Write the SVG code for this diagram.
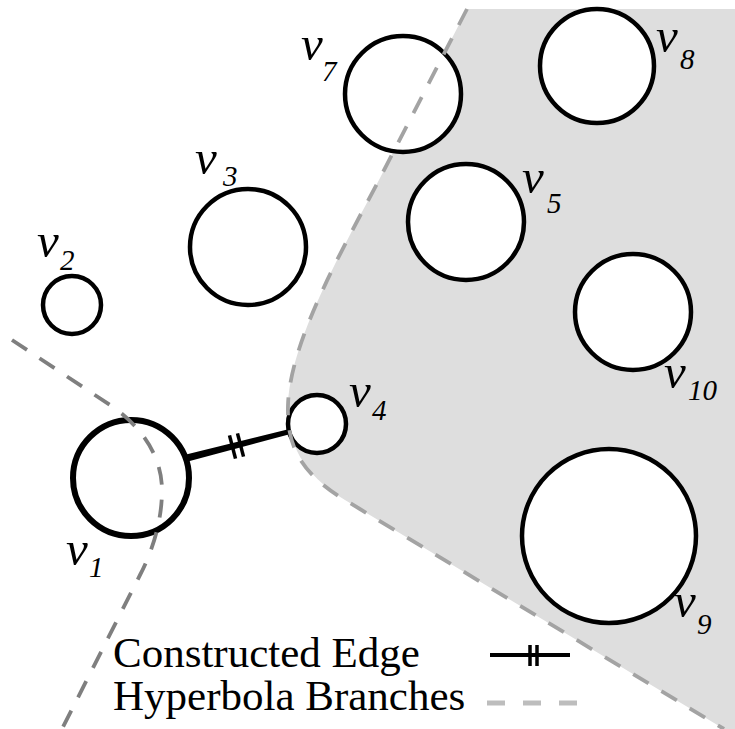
<svg xmlns="http://www.w3.org/2000/svg" width="735" height="729" viewBox="0 0 735 729">
  <style>
    .node { fill: #ffffff; stroke: #000000; stroke-width: 4.5; }
    .lbl { font-family: "Liberation Serif", "DejaVu Serif", serif; font-style: italic; fill: #000000; }
    .v { font-size: 49px; }
    .sub { font-size: 29px; }
    .hyp { fill: none; stroke-width: 3.8; stroke-dasharray: 18 15; }
    .legend { font-family: "Liberation Serif", "DejaVu Serif", serif; font-size: 43px; fill: #000000; }
    .tick { stroke: #000000; stroke-width: 3.5; }
  </style>
  <rect x="0" y="0" width="735" height="729" fill="#ffffff"/>
  <path id="region" d="M467 9 L735 9 L735 729 L724 729 L345 500 C300 472 287 440 288 405 C290 340 345 245 380 178 Z" fill="#dedede"/>

  <g id="connectors">
    <g id="edge-v1-v4">
      <polygon points="186.1,454.6 187.9,461.4 288.6,434.4 287.4,429.6" fill="#000000"/>
      <line class="tick" x1="229.5" y1="435.4" x2="235.5" y2="458.6"/>
      <line class="tick" x1="237.5" y1="433.4" x2="243.5" y2="456.6"/>
    </g>
  </g>

  <g id="v1"><circle class="node" cx="131" cy="478" r="58" style="stroke-width:6"/><text class="lbl v" x="66" y="565">v</text><text class="lbl sub" x="89" y="577">1</text></g>
  <g id="v2"><circle class="node" cx="72" cy="305" r="29"/><text class="lbl v" x="37" y="257">v</text><text class="lbl sub" x="60" y="270">2</text></g>
  <g id="v3"><circle class="node" cx="248" cy="247" r="58"/><text class="lbl v" x="195" y="174">v</text><text class="lbl sub" x="223" y="186">3</text></g>
  <g id="v4"><circle class="node" cx="317" cy="424" r="29"/><text class="lbl v" x="349" y="407">v</text><text class="lbl sub" x="372" y="420">4</text></g>
  <g id="v5"><circle class="node" cx="466" cy="222" r="58"/><text class="lbl v" x="522" y="193">v</text><text class="lbl sub" x="547" y="213">5</text></g>
  <g id="v7"><circle class="node" cx="403" cy="94" r="58"/><text class="lbl v" x="301" y="60">v</text><text class="lbl sub" x="322" y="81">7</text></g>
  <g id="v8"><circle class="node" cx="597" cy="66" r="57"/><text class="lbl v" x="656" y="52">v</text><text class="lbl sub" x="680" y="69">8</text></g>
  <g id="v9"><circle class="node" cx="609" cy="536" r="87"/><text class="lbl v" x="674" y="617">v</text><text class="lbl sub" x="697" y="634">9</text></g>
  <g id="v10"><circle class="node" cx="633" cy="312" r="58"/><text class="lbl v" x="664" y="388">v</text><text class="lbl sub" x="688" y="400">10</text></g>

  <g id="hyperbola-branches">
    <path class="hyp" stroke="#7f7f7f" d="M12 340 L110 405 C140 425 162 455 162 490 C162 520 153 550 140 575 L62 729"/>
    <path class="hyp" stroke="#a3a3a3" d="M467 9 L380 178 C345 245 290 340 288 405 C287 440 295 470 345 500 L724 729"/>
  </g>

  <g id="legend">
    <text class="legend" x="113" y="667">Constructed Edge</text>
    <text class="legend" x="113" y="710">Hyperbola Branches</text>
    <line x1="490" y1="655" x2="570" y2="655" stroke="#000000" stroke-width="4"/>
    <line class="tick" x1="530" y1="645" x2="530" y2="666"/>
    <line class="tick" x1="537" y1="645" x2="537" y2="666"/>
    <line x1="487" y1="703" x2="578" y2="703" stroke="#bdbdbd" stroke-width="5" stroke-dasharray="18 18"/>
  </g>
</svg>
